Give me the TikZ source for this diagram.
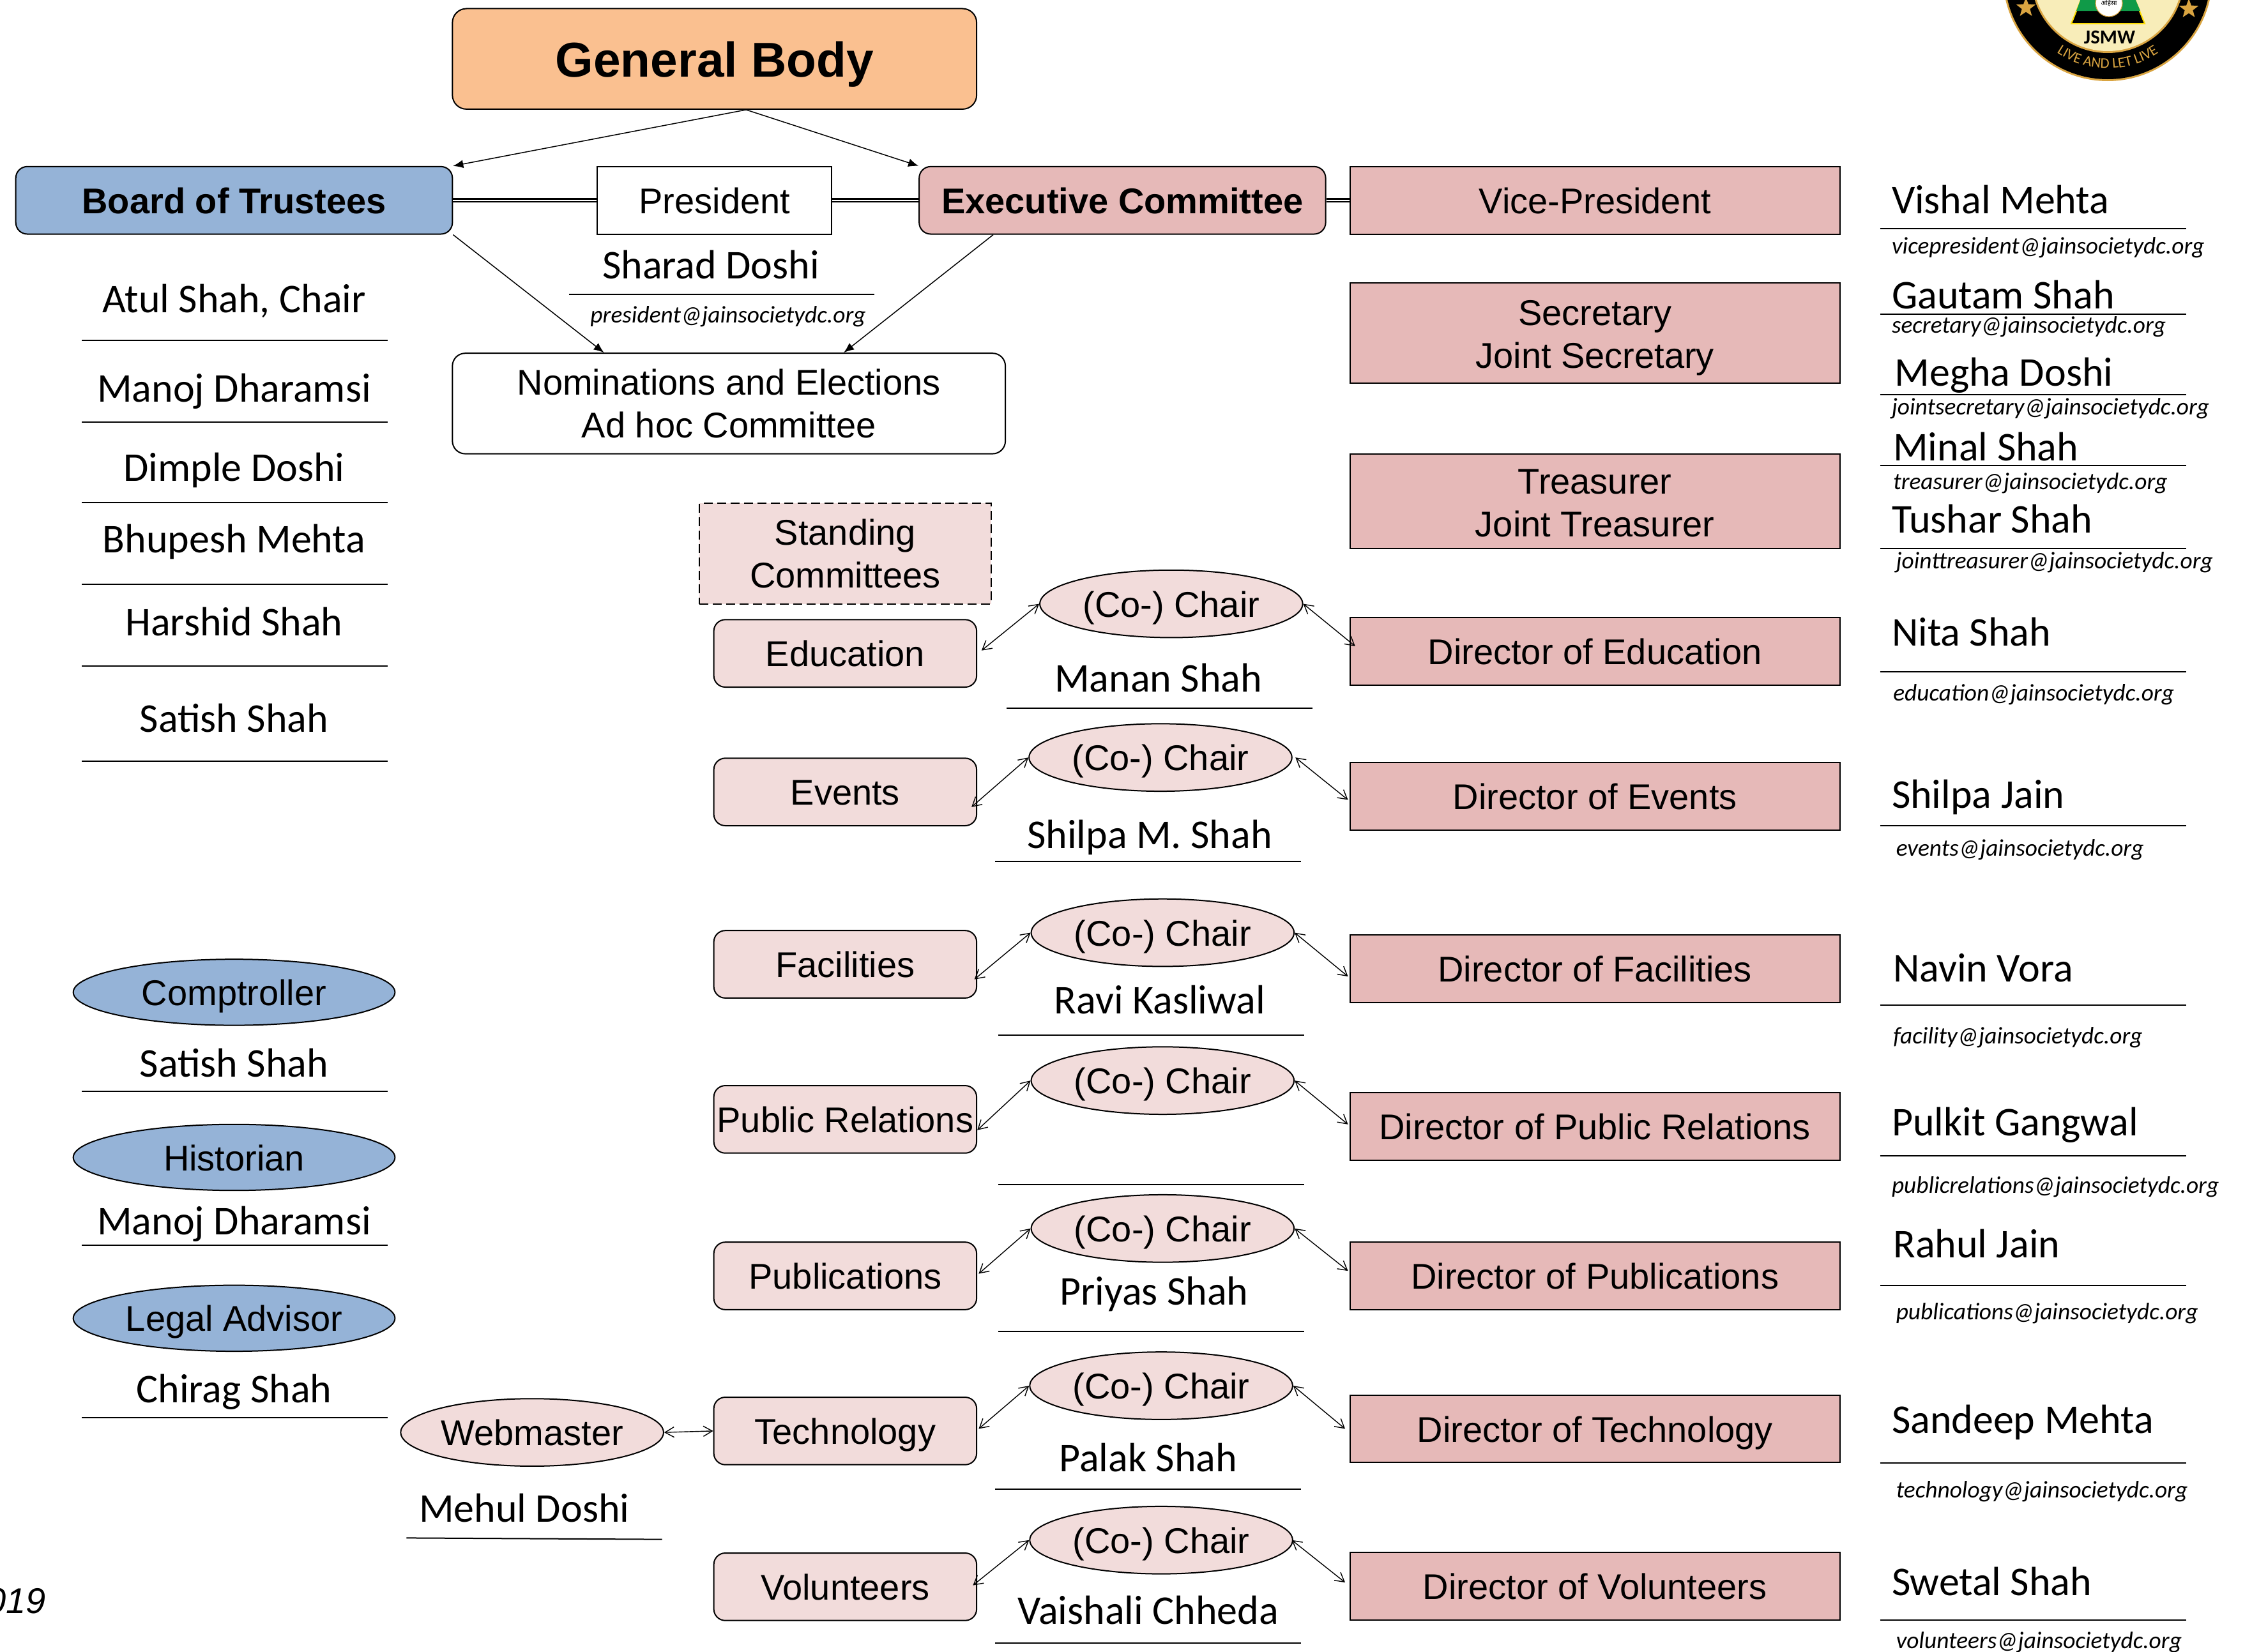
\documentclass[tikz,border=0pt]{standalone}
\usepackage{fontspec}
\setmainfont{Liberation Sans}
\newfontfamily\calfnt{Carlito}
\newfontfamily\devafnt[Script=Devanagari]{Noto Sans}
\usetikzlibrary{arrows.meta,calc,shapes.geometric,decorations.text}
\definecolor{orangeb}{HTML}{FAC090}
\definecolor{blueb}{HTML}{95B3D7}
\definecolor{redb}{HTML}{E6B9B8}
\definecolor{pinkb}{HTML}{F2DCDB}
\definecolor{goldl}{HTML}{D9A441}
\definecolor{creaml}{HTML}{F8EDB9}
\definecolor{greenl}{HTML}{109A48}
\def\u{1.12436pt}
\tikzset{
  wh/.style 2 args={minimum width=#1*\u,minimum height=#2*\u},
  base/.style={draw=black,line width=1pt,inner sep=0pt,align=center,font=\fontsize{28}{33.7}\selectfont},
  tx/.style={text height=23pt,text depth=2.4pt},
  rbox/.style={base,rounded corners=9pt},
  sq/.style={base},
  ell/.style={base,ellipse,tx},
  namet/.style={inner sep=0pt,font=\calfnt\fontsize{32}{36}\selectfont,text height=22pt,text depth=2pt},
  mailt/.style={inner sep=0pt,font=\calfnt\itshape\fontsize{18.7}{22}\selectfont,text height=13pt,text depth=2pt,anchor=west},
  ul/.style={line width=1pt},
  thin arrow/.style={line width=0.75pt,-{Latex[length=8pt,width=6.5pt]}},
  bi/.style={line width=0.7pt,{Straight Barb[length=7pt,width=8pt]}-{Straight Barb[length=7pt,width=8pt]}},
  dbl/.style={double,line width=1.1pt,double distance=1.2pt},
}
\begin{document}
\begin{tikzpicture}[x=\u,y=-\u]
\useasboundingbox (0,0) rectangle (1568,1150.4);
\begin{scope}
\clip (0,0) rectangle (1568,1150.4);

% top
\node[rbox,rounded corners=11pt,fill=orangeb,wh={365}{70},font=\bfseries\fontsize{38.3}{44}\selectfont,text height=30pt,text depth=1.5pt] (gb) at (497.5,41) {General Body};
\node[rbox,fill=blueb,wh={304}{47},tx,font=\bfseries\fontsize{28}{33}\selectfont] (bt) at (163,139.5) {Board of Trustees};
\node[sq,fill=white,wh={163}{47},tx] (pres) at (497.5,139.5) {President};
\node[rbox,fill=redb,wh={283}{47},tx,font=\bfseries\fontsize{28}{33}\selectfont] (ec) at (781.5,139.5) {Executive Committee};
\node[sq,fill=redb,wh={341}{47},tx] (vp) at (1110.5,139.5) {Vice-President};
\node[rbox,rounded corners=10pt,fill=white,wh={385}{70}] (nom) at (507.5,281) {Nominations and Elections\\Ad hoc Committee};
\draw[dbl] (bt.east) -- (pres.west);
\draw[dbl] (pres.east) -- (ec.west);
\draw[dbl] (ec.east) -- (vp.west);
\draw[thin arrow] ($(gb.south)+(22,0)$) -- (bt.north east);
\draw[thin arrow] ($(gb.south)+(22,0)$) -- (ec.north west);
\draw[thin arrow] (bt.south east) -- ($(nom.north)+(-87,0)$);
\draw[thin arrow] ($(ec.south west)+(52,0)$) -- ($(nom.north)+(80,0)$);

\node[namet] (sharad) at (495,185) {Sharad Doshi};
\draw[ul] (396,205) -- (609,205);
\node[mailt,anchor=center] (mpres) at (507,220) {president@jainsocietydc.org};

% left column
\node[namet] (l1) at (163,209) {Atul Shah, Chair};
\draw[ul] (57,237) -- (270,237);
\node[namet] (l2) at (163,271) {Manoj Dharamsi};
\draw[ul] (57,294) -- (270,294);
\node[namet] (l3) at (163,326) {Dimple Doshi};
\draw[ul] (57,350) -- (270,350);
\node[namet] (l4) at (163,376) {Bhupesh Mehta};
\draw[ul] (57,407) -- (270,407);
\node[namet] (l5) at (163,434) {Harshid Shah};
\draw[ul] (57,464) -- (270,464);
\node[namet] (l6) at (163,501) {Satish Shah};
\draw[ul] (57,530) -- (270,530);

\node[ell,fill=blueb,wh={224}{46}] (comp) at (163,691) {Comptroller};
\node[namet] (l7) at (163,741) {Satish Shah};
\draw[ul] (57,760) -- (270,760);
\node[ell,fill=blueb,wh={224}{46}] (hist) at (163,806) {Historian};
\node[namet] (l8) at (163,851) {Manoj Dharamsi};
\draw[ul] (57,867) -- (270,867);
\node[ell,fill=blueb,wh={224}{46}] (legal) at (163,918) {Legal Advisor};
\node[namet] (l9) at (163,968) {Chirag Shah};
\draw[ul] (57,987) -- (270,987);

\node[ell,fill=pinkb,wh={183}{47}] (web) at (370.5,997.5) {Webmaster};
\node[namet] (mehul) at (365,1051) {Mehul Doshi};
\draw[ul] (283,1071) -- (461,1072);

\node[inner sep=0pt,anchor=east,font=\itshape\fontsize{28}{33}\selectfont,tx] (yr) at (32,1114.5) {019};

% committees
\node[sq,dash pattern=on 7pt off 3.5pt,fill=pinkb,wh={203}{70}] (stand) at (588.5,385.5) {Standing\\Committees};
\node[rbox,fill=pinkb,wh={183}{47},tx] (c1) at (588.5,455) {Education};
\node[rbox,fill=pinkb,wh={183}{47},tx] (c2) at (588.5,551.5) {Events};
\node[rbox,fill=pinkb,wh={183}{47},tx] (c3) at (588.5,671.5) {Facilities};
\node[rbox,fill=pinkb,wh={183}{47},tx] (c4) at (588.5,779.5) {Public Relations};
\node[rbox,fill=pinkb,wh={183}{47},tx] (c5) at (588.5,888.5) {Publications};
\node[rbox,fill=pinkb,wh={183}{47},tx] (c6) at (588.5,996.5) {Technology};
\node[rbox,fill=pinkb,wh={183}{47},tx] (c7) at (588.5,1105) {Volunteers};

% chairs
\node[ell,fill=pinkb,wh={183}{47}] (e1) at (815.5,420.5) {(Co-) Chair};
\node[ell,fill=pinkb,wh={183}{47}] (e2) at (808,527.5) {(Co-) Chair};
\node[ell,fill=pinkb,wh={183}{47}] (e3) at (809.5,649.5) {(Co-) Chair};
\node[ell,fill=pinkb,wh={183}{47}] (e4) at (809.5,752.5) {(Co-) Chair};
\node[ell,fill=pinkb,wh={183}{47}] (e5) at (809.5,855.5) {(Co-) Chair};
\node[ell,fill=pinkb,wh={183}{47}] (e6) at (808.5,965) {(Co-) Chair};
\node[ell,fill=pinkb,wh={183}{47}] (e7) at (808.5,1072.5) {(Co-) Chair};

\node[namet] (n1) at (806.5,473) {Manan Shah};
\draw[ul] (701,493) -- (914,493);
\node[namet] (n2) at (800.5,582) {Shilpa M. Shah};
\draw[ul] (693,600) -- (906,600);
\node[namet] (n3) at (807.5,697) {Ravi Kasliwal};
\draw[ul] (695,721) -- (908,721);
\draw[ul] (695,825) -- (908,825);
\node[namet] (n5) at (803.5,900) {Priyas Shah};
\draw[ul] (695,927) -- (908,927);
\node[namet] (n6) at (799.5,1016) {Palak Shah};
\draw[ul] (693,1037) -- (906,1037);
\node[namet] (n7) at (799.5,1122) {Vaishali Chheda};
\draw[ul] (693,1144) -- (906,1144);

% directors
\node[sq,fill=redb,wh={341}{70}] (sec) at (1110.5,232) {\rule{0pt}{27pt}Secretary\\Joint Secretary};
\node[sq,fill=redb,wh={341}{66}] (tre) at (1110.5,349) {\rule{0pt}{22.5pt}Treasurer\\Joint Treasurer};
\node[sq,fill=redb,wh={341}{47},tx] (d1) at (1110.5,453.5) {Director of Education};
\node[sq,fill=redb,wh={341}{47},tx] (d2) at (1110.5,554.5) {Director of Events};
\node[sq,fill=redb,wh={341}{47},tx] (d3) at (1110.5,674.5) {Director of Facilities};
\node[sq,fill=redb,wh={341}{47},tx] (d4) at (1110.5,784.5) {Director of Public Relations};
\node[sq,fill=redb,wh={341}{47},tx] (d5) at (1110.5,888.5) {Director of Publications};
\node[sq,fill=redb,wh={341}{47},tx] (d6) at (1110.5,995) {Director of Technology};
\node[sq,fill=redb,wh={341}{47},tx] (d7) at (1110.5,1104.5) {Director of Volunteers};

% arrows
\draw[bi] ($(c1.east)+(3,-2)$) -- (e1.west);
\draw[bi] (e1.east) -- ($(d1.west)+(4,-3.5)$);
\draw[bi] ($(c2.east)+(-4,10.5)$) -- (e2.west);
\draw[bi] ($(e2.east)+(2,0)$) -- ($(d2.west)+(-1,2.5)$);
\draw[bi] ($(c3.east)+(-2,10.5)$) -- (e3.west);
\draw[bi] (e3.east) -- ($(d3.west)+(-1,5.5)$);
\draw[bi] ($(c4.east)+(0,7.5)$) -- (e4.west);
\draw[bi] (e4.east) -- ($(d4.west)+(-1,-1.5)$);
\draw[bi] ($(c5.east)+(1,-1.5)$) -- (e5.west);
\draw[bi] (e5.east) -- ($(d5.west)+(-1,-3.5)$);
\draw[bi] ($(c6.east)+(1,-1.5)$) -- (e6.west);
\draw[bi] (e6.east) -- ($(d6.west)+(-3,0)$);
\draw[bi] ($(c7.east)+(-3,-1)$) -- (e7.west);
\draw[bi] ($(e7.east)+(-1,0)$) -- ($(d7.west)+(-3,-2.5)$);
\draw[bi] (web.east) -- (c6.west);

% right column
\node[namet,anchor=west] (r1) at (1317,140) {Vishal Mehta};
\draw[ul] (1309,159) -- (1522,159);
\node[mailt] (m1) at (1317,172) {vicepresident@jainsocietydc.org};
\node[namet,anchor=west] (r2) at (1317,206) {Gautam Shah};
\draw[ul] (1309,219) -- (1522,219);
\node[mailt] (m2) at (1317,227) {secretary@jainsocietydc.org};
\node[namet,anchor=west] (r3) at (1319,260) {Megha Doshi};
\draw[ul] (1309,275) -- (1522,275);
\node[mailt] (m3) at (1317,284) {jointsecretary@jainsocietydc.org};
\node[namet,anchor=west] (r4) at (1318,312) {Minal Shah};
\draw[ul] (1309,324) -- (1522,324);
\node[mailt] (m4) at (1318,336) {treasurer@jainsocietydc.org};
\node[namet,anchor=west] (r5) at (1317,362) {Tushar Shah};
\draw[ul] (1309,382) -- (1522,382);
\node[mailt] (m5) at (1320,391) {jointtreasurer@jainsocietydc.org};
\node[namet,anchor=west] (r6) at (1317,441) {Nita Shah};
\draw[ul] (1309,468) -- (1522,468);
\node[mailt] (m6) at (1318,483) {education@jainsocietydc.org};
\node[namet,anchor=west] (r7) at (1317,554) {Shilpa Jain};
\draw[ul] (1309,575) -- (1522,575);
\node[mailt] (m7) at (1320,591) {events@jainsocietydc.org};
\node[namet,anchor=west] (r8) at (1318,675) {Navin Vora};
\draw[ul] (1309,700) -- (1522,700);
\node[mailt] (m8) at (1318,722) {facility@jainsocietydc.org};
\node[namet,anchor=west] (r9) at (1317,782) {Pulkit Gangwal};
\draw[ul] (1309,805) -- (1522,805);
\node[mailt] (m9) at (1317,826) {publicrelations@jainsocietydc.org};
\node[namet,anchor=west] (r10) at (1318,867) {Rahul Jain};
\draw[ul] (1309,895) -- (1522,895);
\node[mailt] (m10) at (1320,914) {publications@jainsocietydc.org};
\node[namet,anchor=west] (r11) at (1317,989) {Sandeep Mehta};
\draw[ul] (1309,1019) -- (1522,1019);
\node[mailt] (m11) at (1320,1038) {technology@jainsocietydc.org};
\node[namet,anchor=west] (r12) at (1317,1102) {Swetal Shah};
\draw[ul] (1309,1128) -- (1522,1128);
\node[mailt] (m12) at (1320,1143) {volunteers@jainsocietydc.org};

% logo, in reference pixels
\begin{scope}[x=0.5pt,y=-0.5pt]
\coordinate (lc) at (3300,-37);
\fill[goldl] (lc) circle[radius=82pt];
\fill[black] (lc) circle[radius=80.5pt];
\fill[goldl] (lc) circle[radius=60pt];
\fill[creaml] (lc) circle[radius=58.5pt];
\fill[black,draw=yellow!80!orange,line width=1pt] (3243,37) -- (3258,0) -- (3343,0) -- (3358,37) -- cycle;
\fill[greenl] (3251,17) -- (3258,-2) -- (3343,-2) -- (3351,17) -- cycle;
\node[circle,fill=white,draw=goldl,line width=0.6pt,minimum size=21pt,inner sep=0pt,font=\devafnt\fontsize{5}{6}\selectfont] (lseal) at (3302,5) {अहिंसा};
\node[inner sep=0pt,font=\calfnt\bfseries\fontsize{15.5}{17}\selectfont] (ljsmw) at (3303,58) {JSMW};
\node[star,star points=5,star point ratio=2.4,fill=goldl,minimum size=16pt,inner sep=0pt] (ls1) at (3172,12) {};
\node[star,star points=5,star point ratio=2.4,fill=goldl,minimum size=16pt,inner sep=0pt] (ls2) at (3427,14) {};
\path[decorate,decoration={text along path,text align=center,text color=goldl,text={|\calfnt\fontsize{11.5}{13}\selectfont|LIVE AND LET LIVE}}]
  ($(lc)+(210:72pt)$) arc[start angle=210,end angle=330,radius=72pt];
\end{scope}
\end{scope}
\end{tikzpicture}
\end{document}
